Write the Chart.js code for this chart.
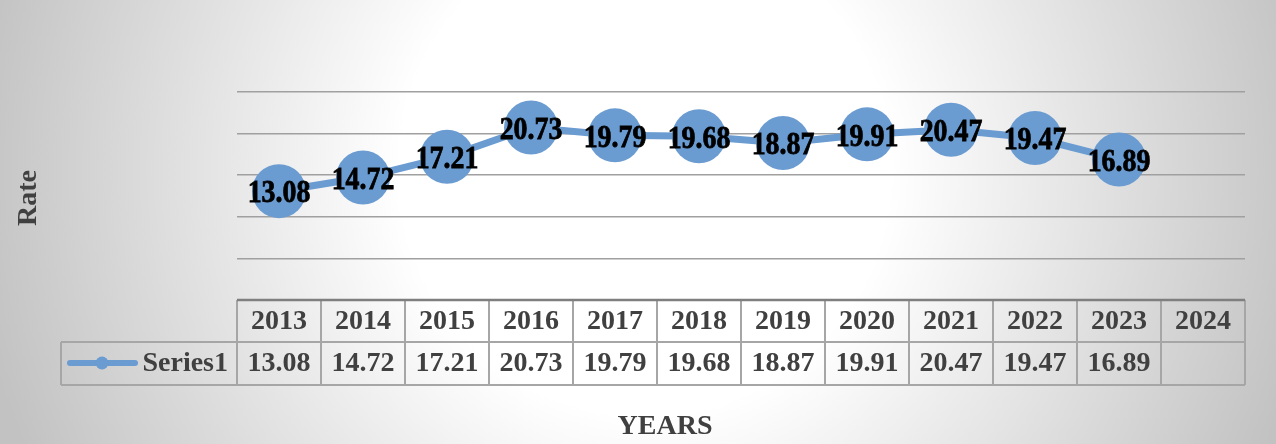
<!DOCTYPE html>
<html>
<head>
<meta charset="utf-8">
<script src="https://cdn.jsdelivr.net/npm/chart.js@4.4.1/dist/chart.umd.min.js"></script>
<style>
  html, body { margin: 0; padding: 0; }
  #wrap { width: 1276px; height: 444px; position: relative; }
</style>
</head>
<body>
<div id="wrap"><canvas id="myChart"></canvas></div>
<script>
// chart data
const years = ['2013', '2014', '2015', '2016', '2017', '2018', '2019', '2020', '2021', '2022', '2023', '2024'];
const rates = [13.08, 14.72, 17.21, 20.73, 19.79, 19.68, 18.87, 19.91, 20.47, 19.47, 16.89, null];
const seriesName = 'Series1';
const yAxisTitle = 'Rate';
const xAxisTitle = 'YEARS';

const serif = "'Liberation Serif', 'Times New Roman', serif";
const blue = '#6a9bd1';
const textGrey = '#404040';

// radial grey background like the Excel chart area
const backgroundPlugin = {
  id: 'bg',
  beforeDraw(chart) {
    const ctx = chart.ctx;
    const g = ctx.createRadialGradient(645, 170, 0, 645, 170, 680);
    g.addColorStop(0, '#ffffff');
    g.addColorStop(0.36, '#ffffff');
    g.addColorStop(1, '#c2c2c2');
    ctx.save();
    ctx.fillStyle = g;
    ctx.fillRect(0, 0, chart.width, chart.height);
    ctx.restore();
  }
};

// data table under the plot, data labels and axis titles
const tablePlugin = {
  id: 'dataTable',
  afterDraw(chart) {
    const ctx = chart.ctx;
    const x = chart.scales.x;
    const area = chart.chartArea;
    const colW = (area.right - area.left) / years.length;
    const top = area.bottom;
    const mid = top + 42;
    const bot = top + 85;
    const legendLeft = 61;

    ctx.save();

    // data labels on the markers (condensed bold)
    const meta = chart.getDatasetMeta(0);
    ctx.fillStyle = '#000';
    ctx.strokeStyle = '#000';
    ctx.lineWidth = 0.8;
    ctx.font = 'bold 32px ' + serif;
    ctx.textAlign = 'center';
    ctx.textBaseline = 'middle';
    meta.data.forEach((pt, i) => {
      if (rates[i] == null) return;
      ctx.save();
      ctx.translate(pt.x, pt.y + 3);
      ctx.scale(0.87, 1);
      ctx.fillText(rates[i].toFixed(2), 0, 0);
      ctx.strokeText(rates[i].toFixed(2), 0, 0);
      ctx.restore();
    });

    // table cell borders
    ctx.strokeStyle = '#a6a6a6';
    ctx.lineWidth = 2;
    ctx.beginPath();
    ctx.moveTo(legendLeft, mid); ctx.lineTo(area.right, mid);
    ctx.moveTo(legendLeft, bot); ctx.lineTo(area.right, bot);
    ctx.moveTo(legendLeft, mid); ctx.lineTo(legendLeft, bot);
    for (let i = 0; i <= years.length; i++) {
      const cx = area.left + i * colW;
      ctx.moveTo(cx, top); ctx.lineTo(cx, bot);
    }
    ctx.stroke();

    // axis line on top of the table
    ctx.strokeStyle = '#7f7f7f';
    ctx.lineWidth = 2.5;
    ctx.beginPath();
    ctx.moveTo(area.left, top); ctx.lineTo(area.right, top);
    ctx.stroke();

    // table text
    ctx.fillStyle = textGrey;
    ctx.font = 'bold 28px ' + serif;
    ctx.textAlign = 'center';
    ctx.textBaseline = 'middle';
    years.forEach((yr, i) => {
      const cx = x.getPixelForValue(i);
      ctx.fillText(yr, cx, top + 22);
      if (rates[i] != null) ctx.fillText(rates[i].toFixed(2), cx, mid + 22);
    });

    // legend key in the table
    ctx.textAlign = 'right';
    ctx.fillText(seriesName, area.left - 9, mid + 22);
    ctx.strokeStyle = blue;
    ctx.lineWidth = 6;
    ctx.lineCap = 'round';
    ctx.beginPath();
    ctx.moveTo(70, mid + 21); ctx.lineTo(135, mid + 21);
    ctx.stroke();
    ctx.fillStyle = blue;
    ctx.beginPath();
    ctx.arc(102, mid + 21, 6.5, 0, Math.PI * 2);
    ctx.fill();

    // axis titles
    ctx.fillStyle = textGrey;
    ctx.font = 'bold 28px ' + serif;
    ctx.textAlign = 'center';
    ctx.fillText(xAxisTitle, 665, 427);
    ctx.translate(29, 198);
    ctx.rotate(-Math.PI / 2);
    ctx.fillText(yAxisTitle, 0, 0);

    ctx.restore();
  }
};

const ctx = document.getElementById('myChart').getContext('2d');
window.chart = new Chart(ctx, {
  type: 'line',
  data: {
    labels: years,
    datasets: [{
      label: seriesName,
      data: rates,
      borderColor: blue,
      backgroundColor: blue,
      borderWidth: 7,
      pointRadius: 27,
      pointHoverRadius: 27,
      pointBorderWidth: 0,
      pointBackgroundColor: blue,
      spanGaps: false,
      clip: false,
      tension: 0
    }]
  },
  options: {
    responsive: true,
    maintainAspectRatio: false,
    devicePixelRatio: 1,
    animation: false,
    layout: { padding: { left: 237, right: 31, top: 92, bottom: 144 } },
    plugins: {
      legend: { display: false },
      tooltip: { enabled: false }
    },
    scales: {
      x: {
        display: false,
        offset: true
      },
      y: {
        min: 0,
        max: 25,
        ticks: { display: false, stepSize: 5 },
        grid: { color: '#a0a0a0', lineWidth: 1.5, drawTicks: false },
        border: { display: false }
      }
    }
  },
  plugins: [backgroundPlugin, tablePlugin]
});
</script>
</body>
</html>
